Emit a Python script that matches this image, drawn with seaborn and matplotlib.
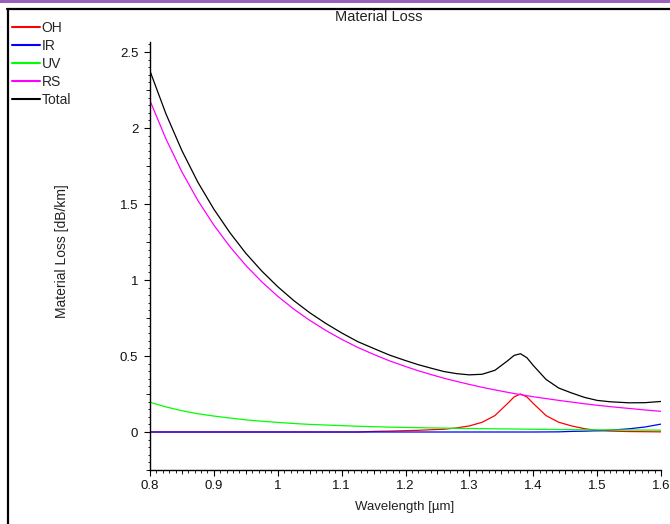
import matplotlib
matplotlib.use('Agg')
import matplotlib.pyplot as plt
import seaborn as sns
import pandas as pd
from matplotlib.lines import Line2D
from matplotlib.patches import Rectangle
from matplotlib.ticker import MultipleLocator, FuncFormatter

# Data (dB/km vs wavelength in um)
wavelength = [0.800, 0.825, 0.850, 0.875, 0.900, 0.925, 0.950, 0.975, 1.000, 1.025, 1.050, 1.075,
              1.100, 1.125, 1.150, 1.175, 1.200, 1.220, 1.240, 1.260, 1.280, 1.300, 1.320,
              1.340, 1.360, 1.370, 1.380, 1.390, 1.400, 1.420, 1.440, 1.460, 1.480, 1.500,
              1.520, 1.550, 1.575, 1.600]
oh = [0.0, 0.0, 0.0, 0.0, 0.0, 0.0, 0.0, 0.0, 0.0, 0.0, 0.0, 0.0,
      0.0, 0.0, 0.004, 0.006, 0.009, 0.011, 0.015, 0.018, 0.027, 0.040, 0.064,
      0.108, 0.188, 0.231, 0.250, 0.231, 0.188, 0.108, 0.064, 0.040, 0.022, 0.010,
      0.006, 0.003, 0.002, 0.001]
ir = [0.0, 0.0, 0.0, 0.0, 0.0, 0.0, 0.0, 0.0, 0.0, 0.0, 0.0, 0.0,
      0.0, 0.0, 0.0, 0.0, 0.0, 0.0, 0.0, 0.0, 0.0, 0.0, 0.0,
      0.0, 0.0, 0.0, 0.0, 0.0, 0.0, 0.0005, 0.001, 0.004, 0.0055, 0.008,
      0.012, 0.021, 0.033, 0.052]
uv = [0.195, 0.165, 0.140, 0.120, 0.105, 0.092, 0.080, 0.071, 0.063, 0.056, 0.050, 0.046,
      0.042, 0.038, 0.035, 0.032, 0.030, 0.0285, 0.027, 0.0255, 0.024, 0.023, 0.022,
      0.021, 0.020, 0.0195, 0.019, 0.0185, 0.018, 0.017, 0.016, 0.0155, 0.0148, 0.014,
      0.0136, 0.013, 0.0125, 0.012]
rs = [2.180, 1.928, 1.711, 1.523, 1.361, 1.220, 1.096, 0.988, 0.893, 0.809, 0.735, 0.669,
      0.610, 0.557, 0.511, 0.468, 0.431, 0.403, 0.378, 0.354, 0.333, 0.313, 0.294,
      0.277, 0.261, 0.253, 0.246, 0.239, 0.232, 0.220, 0.208, 0.197, 0.186, 0.176,
      0.167, 0.155, 0.145, 0.136]
total = [2.375, 2.093, 1.851, 1.643, 1.466, 1.312, 1.176, 1.059, 0.956, 0.865, 0.785, 0.715,
         0.652, 0.595, 0.550, 0.506, 0.470, 0.443, 0.420, 0.398, 0.384, 0.376, 0.380,
         0.406, 0.469, 0.504, 0.515, 0.489, 0.438, 0.346, 0.289, 0.257, 0.228, 0.208,
         0.199, 0.192, 0.193, 0.201]

names = ['OH', 'IR', 'UV', 'RS', 'Total']
colors = {'OH': '#ff0000', 'IR': '#0000ff', 'UV': '#00ff00', 'RS': '#ff00ff', 'Total': '#000000'}

df = pd.DataFrame({'Wavelength': wavelength, 'OH': oh, 'IR': ir, 'UV': uv, 'RS': rs, 'Total': total})
long_df = df.melt(id_vars='Wavelength', var_name='Component', value_name='Loss')

sns.set_style('white')
plt.rcParams['font.family'] = ['Liberation Sans', 'DejaVu Sans']
plt.rcParams['font.size'] = 9.5

fig = plt.figure(figsize=(6.7, 5.24), dpi=100)
ax = fig.add_axes([150 / 670, 1 - 470 / 524, 511 / 670, 428 / 524])

sns.lineplot(data=long_df, x='Wavelength', y='Loss', hue='Component', hue_order=names,
             palette=colors, linewidth=0.9, ax=ax, legend=False)

ax.set_xlim(0.8, 1.6)
ax.set_ylim(-0.25, 2.566)
ax.set_xlabel('')
ax.set_ylabel('')
for s in ['top', 'right']:
    ax.spines[s].set_visible(False)
for s in ['left', 'bottom']:
    ax.spines[s].set_color('black')
    ax.spines[s].set_linewidth(1)

fmt = FuncFormatter(lambda v, p: '%g' % round(v, 2))
ax.xaxis.set_major_locator(MultipleLocator(0.1))
ax.xaxis.set_minor_locator(MultipleLocator(0.01))
ax.yaxis.set_major_locator(MultipleLocator(0.5))
ax.yaxis.set_minor_locator(MultipleLocator(0.05))
ax.xaxis.set_major_formatter(fmt)
ax.yaxis.set_major_formatter(fmt)
ax.tick_params(which='both', direction='out', bottom=True, left=True, color='black',
               labelsize=9.5, labelcolor='#111111')
ax.tick_params(which='major', length=4.5, width=0.8)
ax.tick_params(axis='y', which='major', pad=4)
ax.tick_params(axis='x', which='major', pad=3)
ax.tick_params(which='minor', length=1.8, width=0.6)

# medium-length ticks at the half divisions
secx = ax.secondary_xaxis('bottom')
secx.set_xticks([0.85, 0.95, 1.05, 1.15, 1.25, 1.35, 1.45, 1.55])
secx.tick_params(bottom=True, length=3, width=0.7, labelbottom=False, direction='out')
secx.spines['bottom'].set_visible(False)
secy = ax.secondary_yaxis('left')
secy.set_yticks([-0.25, 0.25, 0.75, 1.25, 1.75, 2.25])
secy.tick_params(left=True, length=3, width=0.7, labelleft=False, direction='out')
secy.spines['left'].set_visible(False)

# texts
fig.text(379 / 670, 1 - 17 / 524, 'Material Loss', ha='center', va='center', fontsize=10.5, color='#222222')
fig.text(405 / 670, 1 - 507 / 524, 'Wavelength [µm]', ha='center', va='center', fontsize=9.5, color='#222222')
fig.text(62 / 670, 1 - 251 / 524, 'Material Loss [dB/km]', ha='center', va='center', rotation=90,
         fontsize=10, color='#222222')

# legend in the upper left corner outside the axes
handles = [Line2D([], [], color=colors[n], lw=1.5) for n in names]
fig.legend(handles, names, loc='upper left', bbox_to_anchor=(12 / 670, 1 - 21 / 524),
           frameon=False, handlelength=2.0, handletextpad=0.15, labelspacing=0.29,
           borderaxespad=0, borderpad=0, fontsize=10)

# window frame
fig.add_artist(Rectangle((0, 1 - 2.5 / 524), 1, 2.5 / 524, transform=fig.transFigure,
                         color='#9b5fc0', lw=0))
fig.add_artist(Line2D([7 / 670, 1], [1 - 9 / 524, 1 - 9 / 524], transform=fig.transFigure,
                      color='black', lw=1.6))
fig.add_artist(Line2D([7.7 / 670, 7.7 / 670], [1 - 9 / 524, 0], transform=fig.transFigure,
                      color='black', lw=1.6))

fig.savefig('out.png', dpi=100)
